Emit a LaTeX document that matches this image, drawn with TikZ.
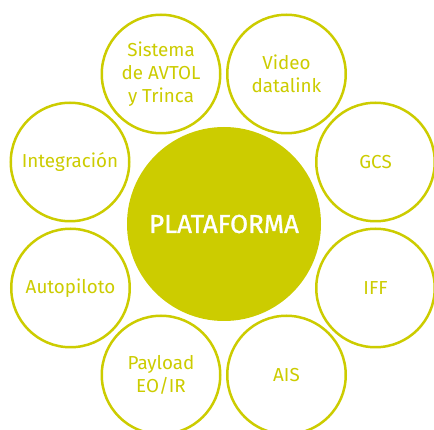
\documentclass[tikz,border=0pt]{standalone}
\usepackage{fontspec}
\setmainfont{Fira Sans}
\newfontfamily\corefont[FakeBold=1.2]{Fira Sans}
\usepackage{tikz}

\definecolor{lima}{RGB}{204,204,0}

\begin{document}
\begin{tikzpicture}[x=1pt, y=-1pt]
    \tikzstyle{core} = [circle,fill=lima,text=white,minimum size=194pt,inner sep=0pt,font=\corefont\fontsize{26}{28}\selectfont]
    \tikzstyle{part} = [circle,draw=lima,line width=2.5pt,fill=white,text=lima,minimum size=118.5pt,inner sep=0pt,align=center,font=\fontsize{18.8}{23}\selectfont]
\useasboundingbox (0,0) rectangle (434,430);
\node[core] (plataforma) at (224, 224) {PLATAFORMA};
\node[part] (avtol) at (161, 74) {Sistema\\de AVTOL\\y Trinca};
\node[part] (video) at (286.5, 74) {Video\\datalink};
\node[part] (gcs) at (375.5, 162) {GCS};
\node[part] (iff) at (375.5, 288) {IFF};
\node[part] (ais) at (286.5, 375) {AIS};
\node[part] (payload) at (161, 375) {Payload\\EO/IR};
\node[part] (autopiloto) at (70.5, 288) {Autopiloto};
\node[part] (integracion) at (70, 162) {Integración};
\end{tikzpicture}
\end{document}
